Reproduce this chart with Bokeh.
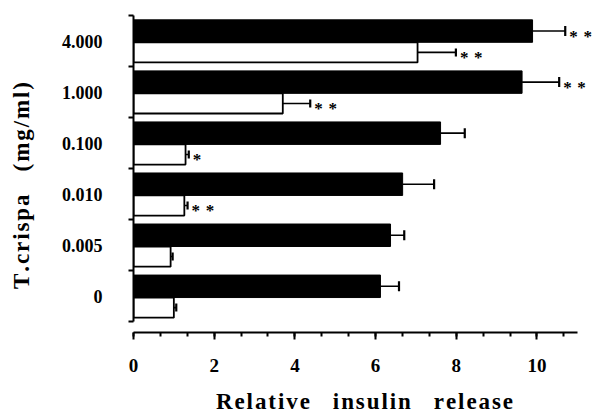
from bokeh.plotting import figure
from bokeh.models import (ColumnDataSource, FixedTicker, SingleIntervalTicker,
                          Whisker, TeeHead)
from bokeh.core.properties import value
from bokeh.embed import file_html
from bokeh.resources import INLINE

# T. crispa concentrations (mg/ml), bottom group first
doses = ["0", "0.005", "0.010", "0.100", "1.000", "4.000"]

# Relative insulin release: filled bars (upper bar in each group)
filled_mean = [6.12, 6.37, 6.67, 7.61, 9.63, 9.89]
filled_sem = [0.46, 0.34, 0.78, 0.60, 0.92, 0.81]
filled_sig = ["", "", "", "", "* *", "* *"]

# Relative insulin release: open bars (lower bar in each group)
open_mean = [1.00, 0.92, 1.26, 1.29, 3.70, 7.04]
open_sem = [0.06, 0.05, 0.08, 0.08, 0.68, 0.95]
open_sig = ["", "", "* *", "*", "* *", "* *"]

x_ticks = [0, 2, 4, 6, 8, 10]

FONT = "Liberation Serif"
NB = "\u00a0"
STAR_GAP = NB + "\u200a"


def tracked(s, sep="\u200a", gap=NB * 4):
    # widen letter and word spacing of SVG text
    words = s.split(" ")
    return gap.join(sep.join(w) for w in words)


idx = list(range(len(doses)))
filled = ColumnDataSource(dict(
    y=[i + 0.695 for i in idx], mean=filled_mean,
    upper=[m + s for m, s in zip(filled_mean, filled_sem)],
    sig=[s.replace(" ", STAR_GAP) for s in filled_sig]))
opened = ColumnDataSource(dict(
    y=[i + 0.2775 for i in idx], mean=open_mean,
    upper=[m + s for m, s in zip(open_mean, open_sem)],
    sig=[s.replace(" ", STAR_GAP) for s in open_sig]))

p = figure(width=595, height=416, x_range=(0, 11.45), y_range=(-0.21, 6.0),
           output_backend="svg", toolbar_location=None,
           min_border_left=133, min_border_right=0,
           min_border_top=15, min_border_bottom=84)
p.outline_line_color = None
p.xgrid.visible = False
p.ygrid.visible = False
p.background_fill_color = "white"

# bars
p.hbar(y="y", left=0, right="mean", height=0.44, source=filled,
       fill_color="black", line_color="black", line_width=1)
p.hbar(y="y", left=0, right="mean", height=0.395, source=opened,
       fill_color="white", line_color="black", line_width=1.8)

# one-sided error bars
for src, cap in ((filled, 10), (opened, 8)):
    p.add_layout(Whisker(source=src, base="y", lower="mean", upper="upper",
                         dimension="width", line_color="black", line_width=1.6,
                         lower_head=None,
                         upper_head=TeeHead(size=cap, line_width=2.2,
                                            line_color="black")))

# significance marks
for src in (filled, opened):
    p.text(x="upper", y="y", text="sig", source=src, x_offset=4, y_offset=5,
           text_font=value(FONT), text_font_style="bold",
           text_font_size="17px", text_color="black",
           text_baseline="middle", text_align="left")

# x axis
xa = p.xaxis[0]
xa.ticker = SingleIntervalTicker(interval=2, num_minor_ticks=3)
xa.bounds = (0, 11)
xa.axis_label = tracked("Relative insulin release")
xa.axis_label_text_font = FONT
xa.axis_label_text_font_style = "bold"
xa.axis_label_text_font_size = "23px"
xa.axis_label_text_color = "black"
xa.axis_label_standoff = 14
xa.major_label_text_font = FONT
xa.major_label_text_font_style = "bold"
xa.major_label_text_font_size = "19px"
xa.major_label_text_color = "black"
xa.major_label_standoff = 19
xa.axis_line_width = 2
xa.major_tick_line_width = 2
xa.minor_tick_line_width = 2
xa.major_tick_out = 7
xa.major_tick_in = 0
xa.minor_tick_out = 4
xa.minor_tick_in = 0

# y axis: ticks at group boundaries, labels at group centres
ya = p.yaxis[0]
ya.ticker = FixedTicker(ticks=[i + 0.5 for i in idx],
                        minor_ticks=list(range(len(doses) + 1)))
ya.major_label_overrides = {i + 0.5: d for i, d in zip(idx, doses)}
ya.bounds = (0, len(doses))
ya.axis_label = tracked("T.crispa (mg/ml)") + NB * 4
ya.axis_label_text_font = FONT
ya.axis_label_text_font_style = "bold"
ya.axis_label_text_font_size = "23px"
ya.axis_label_text_color = "black"
ya.axis_label_standoff = 25
ya.major_label_text_font = FONT
ya.major_label_text_font_style = "bold"
ya.major_label_text_font_size = "18px"
ya.major_label_text_color = "black"
ya.major_label_standoff = 26
ya.axis_line_width = 2
ya.major_tick_out = 0
ya.major_tick_in = 0
ya.minor_tick_out = 5
ya.minor_tick_in = 0
ya.minor_tick_line_width = 2

open("out.html", "w").write(file_html(p, INLINE))
